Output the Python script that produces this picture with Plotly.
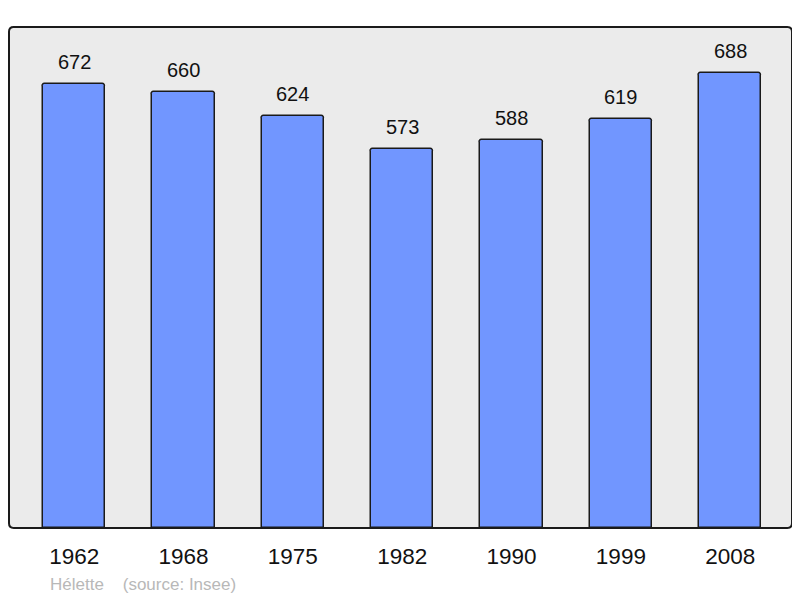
import plotly.graph_objects as go

years = ["1962", "1968", "1975", "1982", "1990", "1999", "2008"]
population = [672, 660, 624, 573, 588, 619, 688]
commune = "Hélette"
source = "(source: Insee)"

# the page body has an 8px offset; compensate
OFF = 8
W, H = 792, 590
ml, mr, mt, mb = 9 - OFF, 8, 27 - OFF, 70

FONT = "Liberation Sans, Arial, sans-serif"

fig = go.Figure()
fig.add_trace(go.Bar(
    x=list(range(len(years))), y=population,
    width=0.57,
    marker=dict(color="#7196ff", line=dict(color="#1a1a1a", width=1.5), cornerradius=3),
    hoverinfo="skip",
))

for i, v in enumerate(population):
    fig.add_annotation(x=i, y=v, text=str(v), showarrow=False, yanchor="bottom",
                       yshift=9, font=dict(size=20, color="#111111", family=FONT))

pw = W - ml - mr
ph = H - mt - mb
fig.add_annotation(xref="paper", yref="paper", x=(48 - OFF - ml) / pw,
                   y=-(584 - 528) / ph, xanchor="left", yanchor="middle",
                   text=commune + "&nbsp;&nbsp;&nbsp;&nbsp;" + source, showarrow=False,
                   font=dict(size=17, color="#b8b8b8", family=FONT))

# rounded border of plot area
r = 0.006
ry = r * pw / ph
path = (f"M {r},0 L {1-r},0 Q 1,0 1,{ry} L 1,{1-ry} Q 1,1 {1-r},1 L {r},1 Q 0,1 0,{1-ry} "
        f"L 0,{ry} Q 0,0 {r},0 Z")
fig.add_shape(type="path", xref="paper", yref="paper", path=path,
              line=dict(color="#1a1a1a", width=2), layer="above")

fig.update_layout(
    width=W, height=H,
    margin=dict(l=ml, r=mr, t=mt, b=mb),
    paper_bgcolor="white", plot_bgcolor="#ebebeb",
    showlegend=False,
    bargap=0,
    xaxis=dict(range=[-0.596, 6.565], tickmode="array", tickvals=list(range(len(years))),
               ticktext=years, showgrid=False, zeroline=False, ticks="outside", ticklen=8,
               tickcolor="rgba(0,0,0,0)",
               tickfont=dict(size=22.5, color="#111111", family=FONT)),
    yaxis=dict(range=[0, 758.3], showgrid=False, zeroline=False, showticklabels=False),
)

fig.write_html("out.html")
